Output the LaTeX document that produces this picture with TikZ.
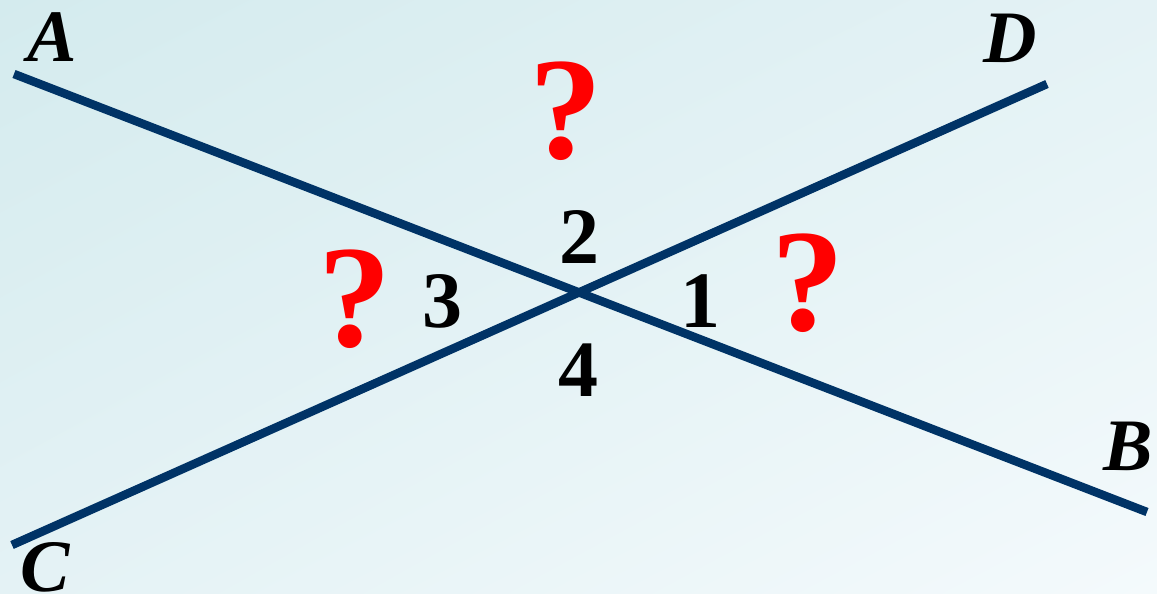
\documentclass[tikz,border=0pt]{standalone}
\usepackage{fontspec}
\setmainfont{Liberation Serif}
\usetikzlibrary{shadings}
\definecolor{lineblue}{RGB}{0,51,102}
\definecolor{bgdark}{RGB}{212,235,238}
\definecolor{bglight}{RGB}{244,250,252}
\definecolor{bgmid}{RGB}{228,242,245}
\begin{document}
\begin{tikzpicture}[x=1pt,y=-1pt,line width=8.5pt]
  \useasboundingbox (0,0) rectangle (1157,594);
  \shade[upper left=bgdark,upper right=bgmid,lower left=bgmid,lower right=bglight]
    (0,0) rectangle (1157,594);
  \coordinate (A) at (14,74);
  \coordinate (B) at (1147,512);
  \coordinate (C) at (12,545);
  \coordinate (D) at (1047,84);
  \draw[lineblue] (A)--(B);
  \draw[lineblue] (C)--(D);
  \tikzset{letter/.style={inner sep=0pt,font=\fontsize{74}{74}\selectfont\bfseries\itshape},
    angle/.style={inner sep=0pt,font=\fontsize{80}{80}\selectfont\bfseries},
    query/.style={inner sep=0pt,text=red,font=\fontsize{146}{146}\selectfont\bfseries}}
  \node[letter] (lA) at (52,37) {A};
  \node[letter] (lB) at (1128,446) {B};
  \node[letter] (lC) at (45,567) {C};
  \node[letter] (lD) at (1010,38) {D};
  \node[angle] (a1) at (700,301) {1};
  \node[angle] (a2) at (579,237) {2};
  \node[angle] (a3) at (442,301) {3};
  \node[angle] (a4) at (578,370) {4};
  \node[query] (q1) at (566,111) {?};
  \node[query] (q2) at (355,299) {?};
  \node[query] (q3) at (808,283) {?};
\end{tikzpicture}
\end{document}
